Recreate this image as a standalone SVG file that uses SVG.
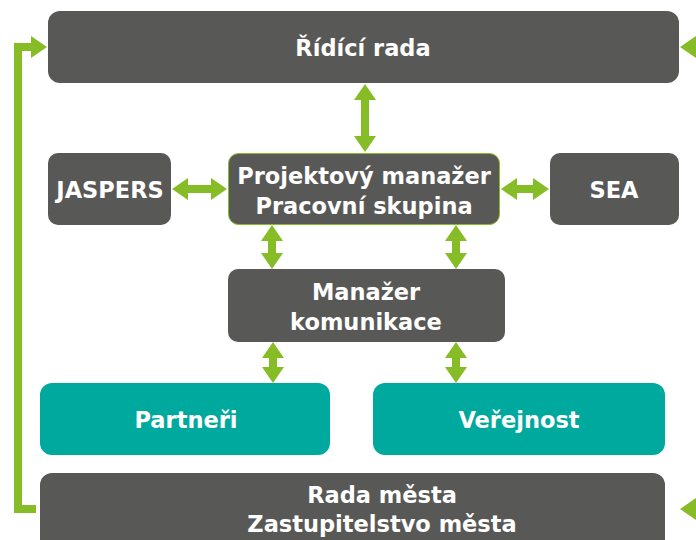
<svg xmlns="http://www.w3.org/2000/svg" width="696" height="540" viewBox="0 0 696 540">
<style>
.dk{fill:#585856;}
.tl{fill:#00a99d;}
.t{font-family:"DejaVu Sans",Verdana,sans-serif;font-weight:bold;font-size:22.5px;fill:#ffffff;text-anchor:middle;}
.c{stroke:#86bc25;stroke-width:8;fill:none;}
.c1{stroke:#86bc25;stroke-width:8;fill:none;marker-end:url(#ah);}
.c2{stroke:#86bc25;stroke-width:8;fill:none;marker-start:url(#ah);marker-end:url(#ah);}
</style>
<defs>
<marker id="ah" markerUnits="userSpaceOnUse" viewBox="0 0 16 22" markerWidth="16" markerHeight="22" refX="5" refY="11" orient="auto-start-reverse">
<path d="M0,0 L16,11 L0,22 z" fill="#86bc25"/>
</marker>
</defs>
<g id="ridici-rada">
<rect class="dk" x="48" y="11" width="631" height="72" rx="12"/>
<text class="t" x="363" y="56">Řídící rada</text>
</g>
<g id="jaspers">
<rect class="dk" x="48" y="153" width="123" height="72" rx="10"/>
<text class="t" x="110" y="198">JASPERS</text>
</g>
<g id="projektovy-manazer">
<rect class="dk" x="228.5" y="153.5" width="271" height="71" rx="10" stroke="#86bc25" stroke-width="1"/>
<text class="t" x="364" y="184">Projektový manažer</text>
<text class="t" x="364" y="214">Pracovní skupina</text>
</g>
<g id="sea">
<rect class="dk" x="550" y="153" width="129" height="72" rx="10"/>
<text class="t" x="614" y="198">SEA</text>
</g>
<g id="manazer-komunikace">
<rect class="dk" x="228" y="269" width="277" height="73" rx="10"/>
<text class="t" x="366" y="300">Manažer</text>
<text class="t" x="366" y="330">komunikace</text>
</g>
<g id="partneri">
<rect class="tl" x="40" y="383" width="290" height="72" rx="12"/>
<text class="t" x="186" y="428">Partneři</text>
</g>
<g id="verejnost">
<rect class="tl" x="373" y="383" width="292" height="72" rx="12"/>
<text class="t" x="519" y="428">Veřejnost</text>
</g>
<g id="rada-mesta">
<rect class="dk" x="40" y="473" width="625" height="80" rx="12"/>
<text class="t" x="382" y="503">Rada města</text>
<text class="t" x="382" y="532">Zastupitelstvo města</text>
</g>
<g id="connectors">
<line class="c2" x1="365" y1="95" x2="365" y2="141"/>
<line class="c2" x1="183" y1="189" x2="216" y2="189"/>
<line class="c2" x1="512" y1="189" x2="538" y2="189"/>
<line class="c2" x1="272" y1="236" x2="272" y2="258"/>
<line class="c2" x1="456" y1="236" x2="456" y2="258"/>
<line class="c2" x1="273" y1="353" x2="273" y2="372"/>
<line class="c2" x1="456" y1="353" x2="456" y2="372"/>
<path class="c1" d="M36,509 L18,509 L18,47 L36,47"/>
<path class="c1" d="M710,509 L691,509"/>
<path class="c1" d="M710,47 L691,47"/>
<path class="c" d="M18,509 L18,47"/>
</g>
</svg>
